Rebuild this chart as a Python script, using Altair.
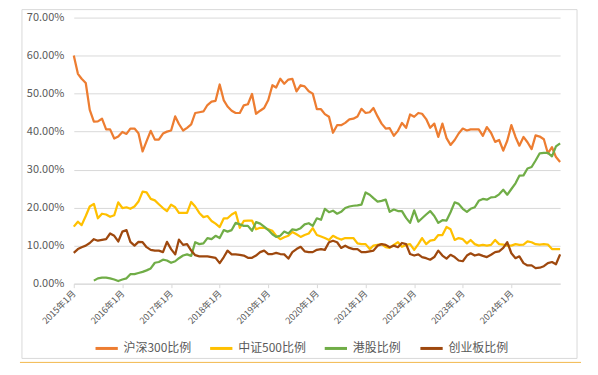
import altair as alt
import pandas as pd

months = pd.date_range("2015-01-01", "2025-01-01", freq="MS")

hs300 = [60.0, 55.2, 53.9, 52.8, 45.7, 42.6, 42.7, 43.4, 40.6, 40.6,
         38.2, 38.7, 39.9, 39.4, 40.8, 40.8, 39.6, 34.8, 37.5, 40.2,
         37.9, 37.9, 39.5, 40.0, 40.3, 44.0, 42.0, 40.3, 41.0, 41.9,
         44.9, 45.1, 45.3, 47.0, 47.9, 48.1, 52.4, 48.2, 46.6, 45.5,
         44.9, 44.9, 46.9, 47.2, 49.9, 44.7, 45.5, 46.2, 48.3, 52.2,
         51.6, 53.9, 52.6, 53.7, 53.9, 50.6, 52.2, 51.9, 50.6, 50.0,
         45.9, 45.9, 44.6, 43.9, 39.7, 41.7, 41.7, 42.3, 43.2, 43.4,
         44.0, 46.0, 44.9, 45.1, 46.2, 44.0, 42.1, 40.8, 40.9, 38.9,
         40.2, 42.3, 41.0, 44.5, 43.9, 44.9, 44.7, 43.3, 41.0, 42.1,
         38.6, 42.1, 38.3, 36.5, 37.8, 39.5, 40.8, 40.3, 40.6, 40.6,
         40.6, 38.9, 41.2, 39.7, 37.3, 37.8, 35.0, 37.6, 41.7, 38.6,
         36.3, 38.6, 37.2, 35.4, 39.0, 38.7, 38.0, 34.3, 35.9, 33.3,
         32.0]

zz500 = [15.0, 16.3, 15.4, 17.8, 20.3, 21.0, 17.2, 18.4, 18.2, 17.6,
         18.0, 21.4, 19.9, 20.1, 19.7, 20.3, 21.6, 24.2, 24.0, 22.3,
         21.9, 20.9, 19.9, 19.1, 20.8, 20.1, 18.6, 18.6, 18.6, 21.5,
         20.3, 18.6, 17.5, 17.8, 16.5, 15.8, 14.9, 17.2, 17.2, 18.2,
         18.8, 14.7, 16.5, 16.6, 16.6, 14.3, 14.7, 14.7, 14.3, 13.9,
         12.6, 11.7, 12.2, 12.6, 13.6, 13.0, 12.3, 12.8, 13.2, 14.6,
         12.8, 12.4, 12.0, 11.5, 12.6, 12.0, 11.6, 12.0, 12.0, 12.0,
         10.6, 10.4, 10.4, 9.1, 10.0, 10.2, 10.4, 9.6, 9.4, 10.2,
         10.9, 9.7, 10.2, 10.4, 8.9, 10.4, 12.0, 10.4, 11.3, 11.5,
         12.8, 12.8, 14.9, 14.3, 11.5, 12.0, 11.7, 10.6, 11.5, 10.4,
         10.0, 10.2, 10.0, 10.2, 11.5, 10.4, 10.3, 10.0, 10.0, 10.4,
         10.2, 10.3, 11.1, 10.9, 10.4, 10.3, 10.4, 10.3, 9.1, 9.1,
         9.1]

hk = [None, None, None, None, None, 0.8, 1.4, 1.6, 1.6, 1.4,
      1.1, 0.7, 1.1, 1.4, 2.5, 2.5, 2.8, 3.1, 3.5, 4.0,
      5.5, 5.7, 6.3, 6.1, 5.5, 5.9, 6.7, 7.4, 7.7, 7.3,
      10.9, 10.4, 10.6, 12.0, 11.7, 12.6, 12.0, 14.1, 13.7, 14.1,
      16.0, 15.6, 15.2, 15.2, 13.9, 16.2, 15.8, 15.0, 14.1, 13.0,
      12.3, 12.6, 13.7, 13.2, 14.3, 14.1, 14.6, 15.6, 15.9, 15.2,
      17.2, 16.8, 19.7, 18.8, 19.2, 18.4, 18.9, 19.9, 20.3, 20.5,
      20.6, 20.8, 24.0, 23.4, 22.5, 21.6, 21.8, 22.1, 18.9, 19.5,
      19.1, 19.1, 17.3, 16.0, 19.3, 16.3, 17.2, 18.2, 19.1, 17.8,
      16.0, 16.7, 16.6, 18.8, 21.4, 21.0, 19.7, 18.9, 19.7, 20.1,
      21.8, 22.3, 22.1, 22.7, 22.8, 23.5, 24.7, 23.4, 24.9, 26.4,
      28.4, 28.5, 30.3, 30.7, 32.4, 34.3, 34.4, 34.4, 33.5, 36.1,
      36.9]

cyb = [8.1, 9.1, 9.6, 10.0, 10.7, 11.7, 11.3, 11.5, 11.7, 13.2,
       12.6, 11.1, 13.7, 14.1, 11.0, 10.0, 11.0, 10.9, 9.6, 8.9,
       8.7, 8.7, 8.3, 11.0, 9.1, 7.7, 11.6, 10.2, 10.4, 8.7,
       7.5, 7.2, 7.2, 7.2, 7.0, 6.8, 5.4, 7.0, 8.7, 7.7,
       7.7, 7.6, 7.4, 6.8, 6.8, 7.4, 8.3, 8.7, 7.8, 7.8,
       8.1, 7.8, 7.7, 6.6, 8.3, 9.1, 9.7, 8.5, 8.3, 8.3,
       8.9, 9.1, 8.9, 10.9, 11.3, 10.9, 9.4, 10.0, 9.4, 9.1,
       9.1, 8.3, 8.3, 8.5, 8.7, 10.0, 10.4, 10.2, 9.6, 10.0,
       9.6, 10.7, 10.4, 7.8, 7.4, 7.7, 7.0, 6.7, 6.3, 7.0,
       8.7, 7.4, 6.6, 7.6, 7.0, 6.1, 5.9, 7.4, 8.0, 7.4,
       7.7, 7.3, 7.0, 7.6, 8.3, 8.5, 9.4, 10.9, 8.0, 6.7,
       7.2, 5.4, 4.8, 4.8, 4.1, 4.2, 4.6, 5.4, 5.7, 5.1,
       7.7]

series_names = ["沪深300比例", "中证500比例", "港股比例", "创业板比例"]
series_colors = ["#ED7D31", "#FFC000", "#70AD47", "#9E480E"]
year_ticks = list(range(2015, 2025))
y_ticks = [0, 10, 20, 30, 40, 50, 60, 70]

rows = []
for name, vals in zip(series_names, [hs300, zz500, hk, cyb]):
    for d, v in zip(months, vals):
        if v is not None:
            rows.append({"date": int(d.value // 10**6), "series": name, "value": v})
df = pd.DataFrame(rows)

tick_ms = [int(pd.Timestamp(f"{y}-01-01").value // 10**6) for y in year_ticks]
dom = [int(months[0].value // 10**6), int(months[-1].value // 10**6)]

FONT = "Noto Sans CJK SC"
GRAY = "#595959"
W, H = 488, 267

lines = alt.Chart(df).mark_line(strokeWidth=2.25, strokeJoin="round").encode(
    x=alt.X("date:T", scale=alt.Scale(type="utc", domain=dom, nice=False),
            axis=alt.Axis(values=tick_ms, title=None,
                          labelExpr="utcFormat(datum.value, '%Y') + '年1月'",
                          labelAngle=-45, labelAlign="right", labelBaseline="middle",
                          labelPadding=4, labelFontSize=9, labelColor=GRAY, labelFont=FONT,
                          grid=False, domainColor="#d9d9d9", tickColor="#d9d9d9",
                          tickSize=4, labelOverlap=False)),
    y=alt.Y("value:Q", scale=alt.Scale(domain=[0, 70], nice=False),
            axis=alt.Axis(values=y_ticks, title=None,
                          labelExpr="format(datum.value, '.2f') + '%'",
                          labelFontSize=11, labelColor=GRAY, labelFont=FONT,
                          labelPadding=10, domain=False, ticks=False,
                          gridColor="#d9d9d9", gridWidth=1)),
    color=alt.Color("series:N",
                    scale=alt.Scale(domain=series_names, range=series_colors),
                    sort=series_names,
                    legend=alt.Legend(title=None, orient="none", direction="horizontal",
                                      legendX=20, legendY=319,
                                      symbolType="stroke", symbolSize=500,
                                      symbolStrokeWidth=3, columnPadding=12,
                                      labelFontSize=12, labelColor=GRAY, labelFont=FONT,
                                      labelOffset=4)),
    detail="series:N",
)

one = pd.DataFrame({"k": [0]})
L, R, T, B = -52, 505, -8, 342
border_color = "#d9d9d9"
top = alt.Chart(one).mark_rule(color=border_color, strokeWidth=1).encode(
    x=alt.value(L), x2=alt.value(R), y=alt.value(T))
bottom = alt.Chart(one).mark_rule(color=border_color, strokeWidth=1).encode(
    x=alt.value(L), x2=alt.value(R), y=alt.value(B))
left = alt.Chart(one).mark_rule(color=border_color, strokeWidth=1).encode(
    x=alt.value(L), y=alt.value(T), y2=alt.value(B))
right = alt.Chart(one).mark_rule(color=border_color, strokeWidth=1).encode(
    x=alt.value(R), y=alt.value(T), y2=alt.value(B))
underline = alt.Chart(one).mark_rule(color="#F2B84B", strokeWidth=1).encode(
    x=alt.value(L - 2), x2=alt.value(R + 4), y=alt.value(B + 4))

chart = alt.layer(top, bottom, left, right, underline, lines).properties(
    width=W, height=H,
    autosize=alt.AutoSizeParams(type="none"),
    padding={"left": 66, "top": 9, "right": 30, "bottom": 84},
).configure_view(stroke=None)

chart.save("out.html", embed_options={"renderer": "svg", "actions": False})
